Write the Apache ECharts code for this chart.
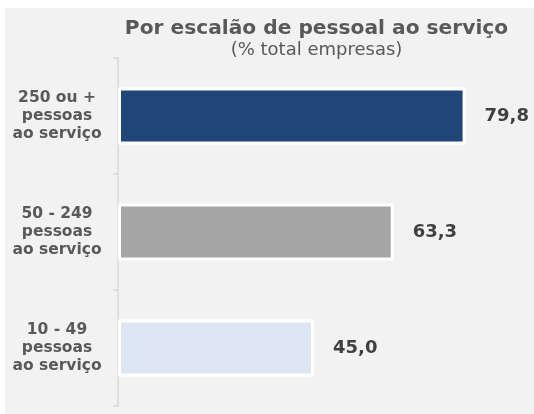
<!DOCTYPE html>
<html>
<head>
<meta charset="utf-8">
<script src="https://cdn.jsdelivr.net/npm/echarts@6/dist/echarts.min.js"></script>
<style>
	html, body { margin: 0; padding: 0; background: #ffffff; }
	#chart { width: 534px; height: 414px; }
</style>
</head>
<body>
<div id="chart"></div>
<script>

// categories, top to bottom
var categories = [
	'250 ou +\npessoas\nao serviço',
	'50 - 249\npessoas\nao serviço',
	'10 - 49\npessoas\nao serviço'
];

// % total empresas
var values = [79.8, 63.3, 45.0];

var barColors = ['#1f4677', '#a6a6a6', '#dce6f2'];

var chart = echarts.init(document.getElementById('chart'), null, { renderer: 'canvas' });

var option = {
	backgroundColor: '#ffffff',
	animation: false,
	graphic: [{
		type: 'rect',
		z: -10,
		shape: { x: 5, y: 8, width: 529, height: 406 },
		style: { fill: '#f2f2f2' }
	}],
	title: {
		text: 'Por escalão de pessoal ao serviço',
		subtext: '(% total empresas)',
		left: 311.5,
		top: 14,
		textAlign: 'center',
		itemGap: 2,
		textStyle: {
			fontFamily: 'DejaVu Sans',
			fontSize: 20.2,
			fontWeight: 'bold',
			color: '#595959'
		},
		subtextStyle: {
			fontFamily: 'DejaVu Sans',
			fontSize: 18,
			color: '#595959'
		}
	},
	grid: {
		left: 118,
		right: 24,
		top: 58,
		bottom: 8,
		containLabel: false
	},
	xAxis: {
		type: 'value',
		min: 0,
		max: 90,
		show: false
	},
	yAxis: {
		type: 'category',
		data: categories,
		inverse: true,
		axisLine: { show: true, lineStyle: { color: '#d9d9d9', width: 1.5 } },
		axisTick: { show: true, length: 5, lineStyle: { color: '#d9d9d9', width: 1.5 } },
		axisLabel: {
			align: 'center',
			margin: 61,
			fontFamily: 'DejaVu Sans',
			fontSize: 15.5,
			fontWeight: 'bold',
			lineHeight: 18,
			color: '#595959'
		},
		splitLine: { show: false }
	},
	series: [{
		type: 'bar',
		barWidth: 57,
		data: values.map(function (v, i) {
			return { value: v, itemStyle: { color: barColors[i] } };
		}),
		itemStyle: {
			borderColor: '#ffffff',
			borderWidth: 3
		},
		label: {
			show: true,
			position: 'right',
			distance: 19,
			fontFamily: 'DejaVu Sans',
			fontSize: 18,
			fontWeight: 'bold',
			color: '#404040',
			formatter: function (p) {
				return p.value.toFixed(1).replace('.', ',');
			}
		}
	}]
};

chart.setOption(option);
</script>
</body>
</html>
